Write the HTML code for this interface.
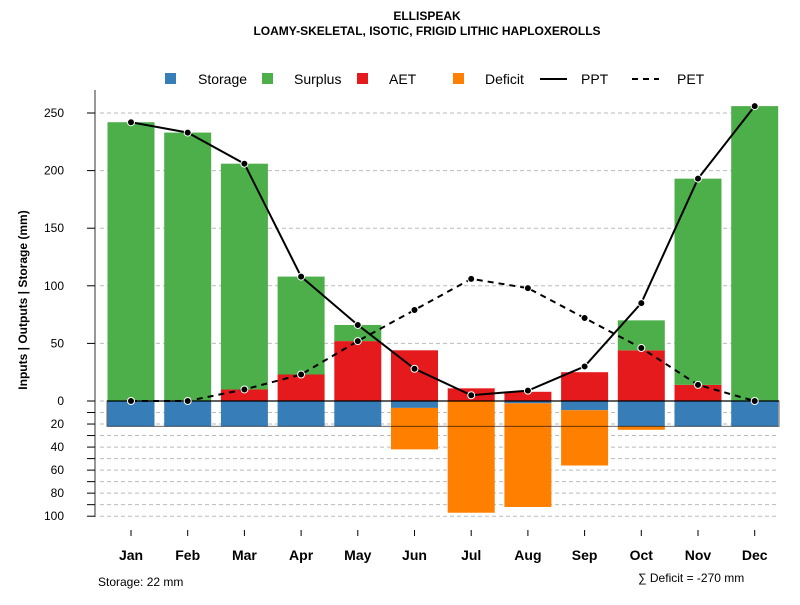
<!DOCTYPE html>
<html><head><meta charset="utf-8"><style>
body{margin:0;background:#fff;font-family:"Liberation Sans",sans-serif}
</style></head><body>
<svg id="c" width="800" height="600" xmlns="http://www.w3.org/2000/svg" font-family="Liberation Sans, sans-serif">
<text x="427" y="20" text-anchor="middle" font-size="12" font-weight="bold">ELLISPEAK</text>
<text x="427" y="35" text-anchor="middle" font-size="12" font-weight="bold">LOAMY-SKELETAL, ISOTIC, FRIGID LITHIC HAPLOXEROLLS</text>
<g id="legend" font-size="14">
<g><rect x="165" y="73" width="11" height="11" fill="#377eb8"/><text x="198" y="84">Storage</text></g>
<g><rect x="262" y="73" width="11" height="11" fill="#4daf4a"/><text x="294" y="84">Surplus</text></g>
<g><rect x="357" y="73" width="11" height="11" fill="#e41a1c"/><text x="389" y="84">AET</text></g>
<g><rect x="453" y="73" width="11" height="11" fill="#ff7f00"/><text x="485" y="84">Deficit</text></g>
<g><line x1="540" y1="79" x2="567" y2="79" stroke="#000" stroke-width="2"/><text x="581" y="84">PPT</text></g>
<g><line x1="632" y1="79" x2="659" y2="79" stroke="#000" stroke-width="2" stroke-dasharray="6,5"/><text x="677" y="84">PET</text></g>
</g>
<g id="grid"></g><g id="bars"></g><g id="lines"></g><g id="axes"></g>
<text transform="translate(27,300) rotate(-90)" text-anchor="middle" font-size="12" font-weight="bold">Inputs | Outputs | Storage    (mm)</text>
<text x="98" y="586" font-size="12">Storage: 22 mm</text>
<text x="638" y="582" font-size="12">∑ Deficit = -270 mm</text>
</svg>
<script>
const months=["Jan","Feb","Mar","Apr","May","Jun","Jul","Aug","Sep","Oct","Nov","Dec"];
const ppt=[242,233,206,108,66,28,5,9,30,85,193,256];
const pet=[0,0,10,23,52,79,106,98,72,46,14,0];
const aet=[0,0,10,23,52,44,11,8,25,44,14,0];
const surplus=[242,233,196,85,14,0,0,0,0,26,179,256];
const storage=[22,22,22,22,22,6,0,2,8,22,22,22];
const deficit=[0,0,0,0,0,36,97,90,48,3,0,0];
const upTicks=[0,50,100,150,200,250];
const downTicks=[20,40,60,80,100];
const NS="http://www.w3.org/2000/svg";
const y0=401,k=1.152;
const Y=v=>y0-v*k;
const X=i=>131+i*56.7;
const bw=47;
function mk(p,t,a){const e=document.createElementNS(NS,t);for(const n in a)e.setAttribute(n,a[n]);document.getElementById(p).appendChild(e);return e;}
// grid
upTicks.forEach(v=>{const l=mk('grid','line',{x1:100,x2:779,y1:Y(v),y2:Y(v),stroke:'#bbb','stroke-dasharray':'4,3'});

});
for(let v=10;v<=100;v+=10){const l=mk('grid','line',{x1:100,x2:779,y1:Y(-v),y2:Y(-v),stroke:'#bbb','stroke-dasharray':'4,3'});

}
// bars
months.forEach((m,i)=>{
 const x=X(i)-bw/2;
 const a=mk('bars','rect',{x:x,y:Y(aet[i]),width:bw,height:aet[i]*k,fill:'#e41a1c'});
 
 
 const s=mk('bars','rect',{x:x,y:Y(aet[i]+surplus[i]),width:bw,height:surplus[i]*k,fill:'#4daf4a'});
 
 
 const st=mk('bars','rect',{x:x,y:Y(0),width:bw,height:storage[i]*k,fill:'#377eb8'});
 
 
 const d=mk('bars','rect',{x:x,y:Y(-storage[i]),width:bw,height:deficit[i]*k,fill:'#ff7f00'});
 
 
});
const z=mk('bars','line',{x1:107,x2:779,y1:Y(0),y2:Y(0),stroke:'#000','stroke-width':1.2});


const sl=mk('bars','rect',{x:107,y:Y(0),width:672,height:22*k,fill:'none',stroke:'#000','stroke-opacity':0.6});


// lines
function series(vals,name,dash){
 const p=mk('lines','polyline',{points:vals.map((v,i)=>X(i)+','+Y(v)).join(' '),fill:'none',stroke:'#000','stroke-width':2,'stroke-dasharray':dash});
 
 
 vals.forEach((v,i)=>{const c=mk('lines','circle',{cx:X(i),cy:Y(v),r:3.5,fill:'#000',stroke:'#fff','stroke-width':1});
 
 });
}
series(pet,'pet','6,5');
series(ppt,'ppt','none');
// axes
const ax=mk('axes','line',{x1:95,x2:95,y1:90,y2:517,stroke:'#777','stroke-width':1.5});


upTicks.forEach(v=>{mk('axes','line',{x1:87,x2:95,y1:Y(v),y2:Y(v),stroke:'#000'});
 const t=mk('axes','text',{x:64,y:Y(v)+4,'text-anchor':'end','font-size':12});t.textContent=v;
 
 });
for(let v=10;v<=100;v+=10)mk('axes','line',{x1:87,x2:95,y1:Y(-v),y2:Y(-v),stroke:'#000'});
downTicks.forEach(v=>{const t=mk('axes','text',{x:64,y:Y(-v)+4,'text-anchor':'end','font-size':12});t.textContent=v;
 
 });
months.forEach((m,i)=>{mk('axes','line',{x1:X(i),x2:X(i),y1:530,y2:536,stroke:'#000'});
 const t=mk('axes','text',{x:X(i),y:560,'text-anchor':'middle','font-size':14,'font-weight':'bold'});t.textContent=m;
 
 });
</script>
</body></html>
